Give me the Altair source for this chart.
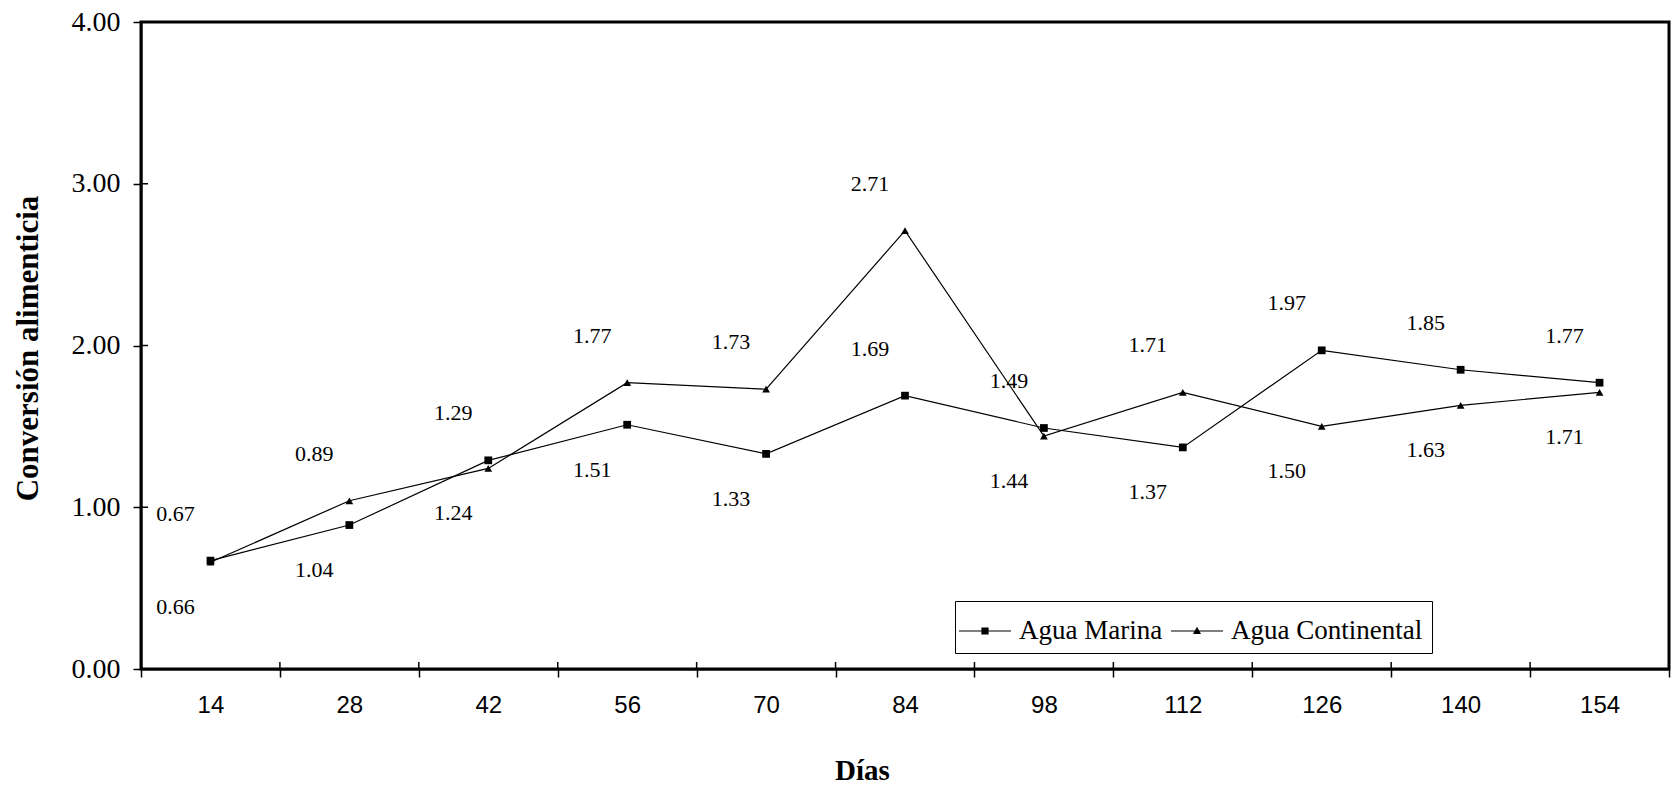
import altair as alt
import pandas as pd

# Días de muestreo y conversión alimenticia de cada tratamiento
dias = [14, 28, 42, 56, 70, 84, 98, 112, 126, 140, 154]
agua_marina = [0.67, 0.89, 1.29, 1.51, 1.33, 1.69, 1.49, 1.37, 1.97, 1.85, 1.77]
agua_continental = [0.66, 1.04, 1.24, 1.77, 1.73, 2.71, 1.44, 1.71, 1.50, 1.63, 1.71]
series = ["Agua Marina", "Agua Continental"]
y_ticks = [0, 1, 2, 3, 4]

# Ubicación de cada etiqueta: sobre el punto más alto del día ("max"),
# bajo el más bajo ("min") o sobre su propio punto ("propio")
pos_marina = ["max", "max", "max", "min", "min", "propio", "max", "min", "max", "max", "max"]
pos_continental = ["min", "min", "min", "max", "max", "max", "min", "max", "min", "min", "min"]

rows = []
for serie, valores, posiciones in [
    ("Agua Continental", agua_continental, pos_continental),
    ("Agua Marina", agua_marina, pos_marina),
]:
    for i, (d, v, p) in enumerate(zip(dias, valores, posiciones)):
        pareja = (agua_marina[i], agua_continental[i])
        if p == "max":
            ancla = max(pareja)
        elif p == "min":
            ancla = min(pareja)
        else:
            ancla = v
        rows.append({
            "dia": d,
            "serie": serie,
            "valor": v,
            "texto": f"{v:.2f}",
            "ancla": ancla,
            "lado": "abajo" if p == "min" else "arriba",
        })
df = pd.DataFrame(rows)
df_ticks = pd.DataFrame({"valor": y_ticks})
df_dias = pd.DataFrame({"dia": dias})

W, H = 1528, 647
SERIF = "Liberation Serif"
SANS = "Liberation Sans"

x_scale = alt.Scale(type="band", domain=dias, paddingInner=0, paddingOuter=0)
y_scale = alt.Scale(domain=[0, 4], nice=False)

x_axis = alt.Axis(
    title="Días",
    titleFont=SERIF,
    titleFontWeight="bold",
    titleFontSize=29,
    titleX=721,
    titleY=101,
    titleBaseline="middle",
    labelFont=SANS,
    labelFontSize=24,
    labelAngle=0,
    labelPadding=16,
    tickBand="extent",
    tickSize=8,
)
y_axis = alt.Axis(
    title="Conversión alimenticia",
    titleFont=SERIF,
    titleFontWeight="bold",
    titleFontSize=31,
    titleX=-113,
    titleY=326,
    titleBaseline="middle",
    titleAlign="center",
    values=y_ticks,
    format=".2f",
    labelFont=SERIF,
    labelFontSize=28,
    labelPadding=13,
    tickSize=8,
)


def eje_x(**kw):
    return alt.X("dia:O", scale=x_scale, axis=x_axis, **kw)


def eje_y(campo):
    return alt.Y(f"{campo}:Q", scale=y_scale, axis=y_axis)


base = alt.Chart(df)

lineas = base.mark_line(color="black", strokeWidth=1.2).encode(
    x=eje_x(),
    y=eje_y("valor"),
    detail="serie:N",
)

puntos = base.mark_point(filled=True, opacity=1, color="black", size=60).encode(
    x=eje_x(),
    y=eje_y("valor"),
    shape=alt.Shape(
        "serie:N",
        scale=alt.Scale(domain=series, range=["square", "triangle-up"]),
        legend=None,
    ),
)

# Símbolos de la leyenda: trazo de línea (franja fina) con su marcador
simbolo_marina = "M-1.3,-0.03H1.3V0.03H-1.3ZM-0.18,-0.18H0.18V0.18H-0.18Z"
simbolo_continental = "M-1.3,-0.03H1.3V0.03H-1.3ZM0,-0.21L0.2,0.15H-0.2Z"

leyenda = base.transform_filter("false").mark_point(
    filled=True, opacity=1, color="black"
).encode(
    x=eje_x(),
    y=eje_y("valor"),
    shape=alt.Shape(
        "serie:N",
        scale=alt.Scale(domain=series, range=[simbolo_marina, simbolo_continental]),
        legend=alt.Legend(
            title=None,
            orient="none",
            legendX=814,
            legendY=579,
            direction="horizontal",
            strokeColor="black",
            fillColor="white",
            padding=9,
            labelFont=SERIF,
            labelFontSize=27,
            labelColor="black",
            labelLimit=500,
            labelOffset=13,
            columnPadding=5,
            symbolSize=1600,
            symbolFillColor="black",
            symbolOpacity=1,
        ),
    ),
)

etiquetas_arriba = base.transform_filter("datum.lado === 'arriba'").mark_text(
    font=SERIF, fontSize=22, color="black", dx=-35, dy=-47, baseline="middle"
).encode(
    x=eje_x(),
    y=eje_y("ancla"),
    text="texto:N",
)
etiquetas_abajo = base.transform_filter("datum.lado === 'abajo'").mark_text(
    font=SERIF, fontSize=22, color="black", dx=-35, dy=45, baseline="middle"
).encode(
    x=eje_x(),
    y=eje_y("ancla"),
    text="texto:N",
)

# Mitad interior de las marcas de graduación (cruzan el eje)
marcas_y = alt.Chart(df_ticks).mark_rule(color="black", strokeWidth=1.5).encode(
    y=eje_y("valor"),
    x=alt.value(0),
    x2=alt.value(7),
)
marcas_x = alt.Chart(df_dias).mark_rule(color="black", strokeWidth=1.5).encode(
    x=eje_x(bandPosition=0),
    y=alt.value(H - 7),
    y2=alt.value(H),
)

chart = (
    alt.layer(lineas, puntos, leyenda, etiquetas_arriba, etiquetas_abajo, marcas_y, marcas_x)
    .resolve_scale(shape="independent")
    .properties(
        width=W,
        height=H,
        autosize=alt.AutoSizeParams(type="none"),
        padding={"left": 141, "top": 22, "right": 11, "bottom": 118},
        background="white",
    )
    .configure(font=SERIF)
    .configure_view(stroke="black", strokeWidth=3)
    .configure_axis(
        domainColor="black",
        domainWidth=2,
        tickColor="black",
        tickWidth=1.5,
        grid=False,
        titleColor="black",
        labelColor="black",
    )
    .configure_axisLeft(labelFont=SERIF, titleFont=SERIF)
    .configure_axisBottom(labelFont=SANS, titleFont=SERIF)
)

chart.save("out.html", embed_options={"renderer": "svg", "actions": False})
